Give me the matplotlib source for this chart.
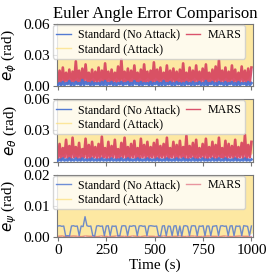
import numpy as np
import matplotlib
matplotlib.use("Agg")
import matplotlib.pyplot as plt

# ---- data ----
# errors in 1e-3 rad, panel e_phi
mars_phi = [3, 15, 2, 18, 4, 13, 3, 16, 2, 14, 4, 24, 3, 15, 2, 17, 3, 21, 4, 13,
            2, 16, 3, 14, 4, 18, 2, 15, 3, 22, 4, 14, 2, 16, 3, 13, 4, 19, 2, 26,
            3, 14, 4, 17, 2, 15, 3, 20, 4, 13, 2, 16, 3, 21, 4, 14, 2, 15, 3, 23,
            4, 16, 2, 18, 3, 13, 4, 20, 2, 15, 3, 17, 4, 14, 2, 16, 3, 22, 4, 13,
            2, 18, 3, 15, 4, 20, 2, 14, 3, 17, 4, 21, 2, 13, 3, 16, 4, 19, 2, 25,
            3, 15, 4, 18, 2, 14, 3, 20, 4, 16, 2, 13, 3, 19, 4, 15, 2, 17, 3, 18]
std_phi = [1, 3, 1, 4, 1, 3, 2, 5, 1, 3, 1, 4, 2, 3, 1, 6, 1, 4, 2, 3,
           1, 4, 1, 3, 2, 3, 1, 4, 1, 5, 1, 3, 2, 4, 1, 3, 1, 3, 2, 4,
           1, 3, 2, 4, 1, 3, 1, 5, 2, 3, 1, 4, 1, 3, 2, 3, 1, 4, 1, 3,
           2, 4, 1, 3, 1, 5, 1, 3, 2, 4, 1, 3, 1, 4, 2, 3, 1, 3, 1, 4,
           2, 3, 1, 4, 1, 3, 2, 4, 1, 3, 1, 5, 1, 3, 2, 4, 1, 3, 1, 4,
           2, 3, 1, 4, 1, 3, 2, 4, 1, 3, 1, 4, 1, 3, 2, 3, 1, 4, 1, 3]
# panel e_theta
mars_theta = [3, 17, 2, 13, 4, 21, 3, 15, 2, 23, 4, 14, 3, 18, 2, 12, 4, 22, 3, 16,
              2, 19, 4, 14, 3, 17, 2, 24, 4, 13, 3, 19, 2, 15, 4, 21, 3, 12, 2, 18,
              4, 23, 3, 14, 2, 17, 4, 20, 3, 13, 2, 22, 4, 16, 3, 19, 2, 14, 4, 18,
              3, 21, 2, 15, 4, 17, 3, 23, 2, 13, 4, 19, 3, 16, 2, 20, 4, 14, 3, 25,
              2, 15, 4, 18, 3, 21, 2, 13, 4, 17, 3, 22, 2, 14, 4, 19, 3, 16, 2, 23,
              4, 13, 3, 20, 2, 17, 4, 15, 3, 21, 2, 14, 4, 18, 3, 26, 2, 16, 4, 19]
std_theta = [1, 2, 1, 3, 1, 2, 1, 3, 1, 2, 1, 3, 1, 2, 1, 3, 1, 2, 1, 2,
             1, 3, 1, 2, 1, 2, 1, 3, 1, 2, 1, 2, 1, 3, 1, 2, 1, 2, 1, 3,
             1, 2, 1, 3, 1, 2, 1, 2, 1, 3, 1, 2, 1, 2, 1, 3, 1, 2, 1, 2,
             1, 3, 1, 2, 1, 2, 1, 3, 1, 2, 1, 2, 1, 3, 1, 2, 1, 3, 1, 2,
             1, 2, 1, 3, 1, 2, 1, 2, 1, 3, 1, 2, 1, 2, 1, 3, 1, 2, 1, 3,
             1, 2, 1, 3, 1, 2, 1, 2, 1, 3, 1, 2, 1, 2, 1, 3, 1, 2, 1, 2]
# panel e_psi, in 1e-4 rad
std_psi = [35, 36, 34, 35, 3, 4, 3, 35, 36, 34,
           35, 4, 35, 33, 65, 36, 34, 35, 4, 3,
           35, 36, 34, 35, 4, 35, 36, 4, 35, 34,
           35, 3, 4, 35, 36, 35, 4, 35, 34, 36,
           35, 4, 35, 36, 34, 35, 4, 35, 36, 35,
           34, 35, 4, 3, 35, 36, 4, 35, 34, 4,
           35, 36, 4, 35, 3, 35, 36, 34, 4, 35,
           36, 35, 4, 35, 34, 36, 4, 35, 35, 4,
           34, 35, 36, 4, 35, 36, 34, 35, 4, 35,
           36, 4, 35, 34, 35, 4, 36, 35, 34, 4, 35]
mars_psi = [2, 3, 1, 2, 3, 2, 1, 3, 2, 2, 1, 3, 2, 1, 2, 3, 2, 2, 1, 3,
            2, 1, 3, 2, 2, 1, 2, 3, 1, 2, 2, 3, 1, 2, 3, 2, 1, 2, 3, 2,
            2, 1, 3, 2, 1, 2, 3, 2, 2, 1]
# standard controller under attack, rad (far above the axis range)
atk_phi = [0.01, 0.42, 0.02, 0.37, 0.01, 0.51, 0.03, 0.33, 0.01, 0.46,
           0.02, 0.39, 0.01, 0.55, 0.02, 0.41, 0.01, 0.36, 0.03, 0.48,
           0.01, 0.44, 0.02, 0.38, 0.01, 0.52, 0.02, 0.35, 0.01, 0.47,
           0.03, 0.40, 0.01, 0.43, 0.02, 0.50, 0.01, 0.37, 0.02, 0.45,
           0.01, 0.39, 0.03, 0.53, 0.01, 0.34, 0.02, 0.46, 0.01, 0.41,
           0.02, 0.49, 0.01, 0.36, 0.02, 0.44, 0.01, 0.51, 0.03, 0.38,
           0.01, 0.42, 0.02, 0.47, 0.01, 0.35, 0.02, 0.54, 0.01, 0.40,
           0.03, 0.45, 0.01, 0.37, 0.02, 0.50, 0.01, 0.43, 0.02, 0.39,
           0.01, 0.48, 0.02, 0.36, 0.01, 0.52, 0.03, 0.41, 0.01, 0.44,
           0.02, 0.38, 0.01, 0.49, 0.02, 0.35, 0.01, 0.46, 0.02, 0.42]
atk_theta = [0.02, 0.38, 0.01, 0.45, 0.02, 0.33, 0.01, 0.49, 0.03, 0.41,
             0.01, 0.36, 0.02, 0.52, 0.01, 0.40, 0.02, 0.44, 0.01, 0.37,
             0.03, 0.47, 0.01, 0.35, 0.02, 0.50, 0.01, 0.42, 0.02, 0.39,
             0.01, 0.46, 0.03, 0.34, 0.01, 0.48, 0.02, 0.43, 0.01, 0.38,
             0.02, 0.51, 0.01, 0.36, 0.02, 0.45, 0.01, 0.40, 0.03, 0.47,
             0.01, 0.33, 0.02, 0.49, 0.01, 0.42, 0.02, 0.37, 0.01, 0.53,
             0.02, 0.39, 0.01, 0.44, 0.03, 0.35, 0.01, 0.48, 0.02, 0.41,
             0.01, 0.46, 0.02, 0.38, 0.01, 0.50, 0.02, 0.36, 0.01, 0.43,
             0.03, 0.47, 0.01, 0.34, 0.02, 0.45, 0.01, 0.40, 0.02, 0.52,
             0.01, 0.37, 0.02, 0.44, 0.01, 0.39, 0.03, 0.48, 0.01, 0.42]
atk_psi = [0.001, 0.12, 0.002, 0.09, 0.001, 0.15, 0.002, 0.11, 0.001, 0.08,
           0.002, 0.13, 0.001, 0.10, 0.002, 0.14, 0.001, 0.09, 0.002, 0.12,
           0.001, 0.16, 0.002, 0.10, 0.001, 0.11, 0.002, 0.08, 0.001, 0.13,
           0.002, 0.12, 0.001, 0.09, 0.002, 0.15, 0.001, 0.10, 0.002, 0.14,
           0.001, 0.11, 0.002, 0.08, 0.001, 0.13, 0.002, 0.12, 0.001, 0.10,
           0.002, 0.16, 0.001, 0.09, 0.002, 0.11, 0.001, 0.14, 0.002, 0.12,
           0.001, 0.08, 0.002, 0.13, 0.001, 0.10, 0.002, 0.15, 0.001, 0.11,
           0.002, 0.09, 0.001, 0.12, 0.002, 0.14, 0.001, 0.10, 0.002, 0.13,
           0.001, 0.11, 0.002, 0.08, 0.001, 0.16, 0.002, 0.12, 0.001, 0.09,
           0.002, 0.14, 0.001, 0.10, 0.002, 0.13, 0.001, 0.11, 0.002, 0.12]

ylabels = [r'$e_\phi$ (rad)', r'$e_\theta$ (rad)', r'$e_\psi$ (rad)']
yticks = [[0, 0.03, 0.06], [0, 0.03, 0.06], [0, 0.01, 0.02]]
xticks = [0, 250, 500, 750, 1000]

c_std = '#4a73d1'
c_atk = '#fcdc70'
c_mars = '#d6405e'


def t_of(vals):
    return np.linspace(0, 1000, len(vals))


plt.rcParams['font.family'] = ['Liberation Serif', 'DejaVu Serif']
plt.rcParams['font.size'] = 11

fig, axes = plt.subplots(3, 1, figsize=(2.7, 2.72), dpi=100, sharex=True)
fig.subplots_adjust(left=0.211, right=0.937, top=0.912, bottom=0.129, hspace=0.21)

panels = [
    (np.array(std_phi) * 1e-3, np.array(atk_phi), np.array(mars_phi) * 1e-3, 1.0),
    (np.array(std_theta) * 1e-3, np.array(atk_theta), np.array(mars_theta) * 1e-3, 1.0),
    (np.array(std_psi) * 1e-4, np.array(atk_psi), np.array(mars_psi) * 1e-4, 0.6),
]

for i, (ax, (s, a, m, al)) in enumerate(zip(axes, panels)):
    lw = 1.9 if i < 2 else 1.0
    l1, = ax.plot(t_of(s), s, color=c_std, lw=lw, alpha=0.95 if i < 2 else 0.8,
                  zorder=3, label='Standard (No Attack)')
    l2, = ax.plot(t_of(a), a, color=c_atk, lw=6, alpha=0.65, zorder=1,
                  label='Standard (Attack)')
    l3, = ax.plot(t_of(m), m, color=c_mars, lw=lw, alpha=0.9 * al, zorder=2,
                  label='MARS')
    ax.set_ylim(yticks[i][0], yticks[i][-1])
    ax.set_yticks(yticks[i])
    ax.set_yticklabels(['%.2f' % v for v in yticks[i]])
    ax.set_ylabel(ylabels[i], fontsize=11, labelpad=3)
    ax.set_xlim(-5, 1008)
    for sp in ax.spines.values():
        sp.set_color('#777777')
        sp.set_linewidth(0.8)
    ax.tick_params(length=3, width=0.8, color='#777777', labelsize=11, pad=2)
    leg = ax.legend(handles=[l1, l2, l3], ncol=2, fontsize=8.6, loc='upper left',
                    bbox_to_anchor=(-0.03, 1.01), borderaxespad=0.15,
                    handlelength=1.2, handletextpad=0.6, columnspacing=0.5,
                    labelspacing=0.2, borderpad=0.3, framealpha=0.8)
    for h in leg.get_lines():
        h.set_linewidth(1.0)
    leg.set_zorder(5)

axes[-1].set_xticks(xticks)
axes[-1].set_xlabel('Time (s)', fontsize=11, labelpad=1)
axes[0].set_title('Euler Angle Error Comparison', fontsize=12, pad=4)

fig.savefig('out.png', dpi=100)
